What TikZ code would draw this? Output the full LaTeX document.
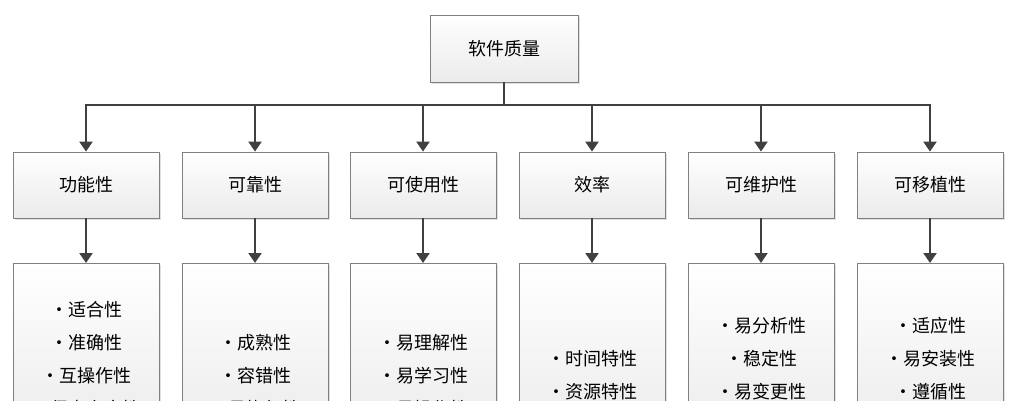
\documentclass[tikz,border=0pt]{standalone}
\usepackage{fontspec}
\newfontfamily\cjk{Noto Sans CJK SC}
\usetikzlibrary{arrows.meta,shadows}
\tikzset{
 box/.style={draw=black!50,line width=0.8pt,top color=white,bottom color=black!8,
   drop shadow={shadow xshift=2pt,shadow yshift=-2pt,opacity=0.25},
   minimum width=146pt,font=\cjk\fontsize{18}{33}\selectfont,align=center,inner sep=0pt},
 conn/.style={line width=2.2pt,draw=black!75},
 arr/.style={conn,-{Triangle[length=10pt,width=13pt]}}
}
\begin{document}
\begin{tikzpicture}[x=1pt,y=-1pt]
\useasboundingbox (0,0) rectangle (1018,400);
\clip (0,0) rectangle (1018,400);
\node[box,minimum width=148pt,minimum height=67pt] (top) at (504,48.5) {软件质量};
\coordinate (bus) at (504,105);
\foreach \i/\x/\t in {1/86/功能性,2/255/可靠性,3/423/可使用性,4/592/效率,5/761/可维护性,6/930/可移植性}{
  \node[box,minimum height=66pt] (m\i) at (\x,185) {\t};
  \node[box,minimum height=180pt,anchor=north] (b\i) at (\x,263) {};
  \draw[arr] (top.south) -- (bus) -| (m\i.north);
  \draw[arr] (m\i.south) -- (b\i.north);
}
\tikzset{lt/.style={font=\cjk\fontsize{18}{33}\selectfont}}
\foreach \i/\y/\t in {1/310/·适合性,1/343/·准确性,1/376/·互操作性,1/409/·保密安全性,
  2/343/·成熟性,2/376/·容错性,2/409/·易恢复性,
  3/343/·易理解性,3/376/·易学习性,3/409/·易操作性,
  4/359/·时间特性,4/392/·资源特性,
  5/326/·易分析性,5/359/·稳定性,5/392/·易变更性,5/425/·易测试性,
  6/326/·适应性,6/359/·易安装性,6/392/·遵循性,6/425/·易替换性}{
  \node[lt] (t\i-\y) at (b\i.north |- 0,\y) {\t};
}
\end{tikzpicture}
\end{document}
